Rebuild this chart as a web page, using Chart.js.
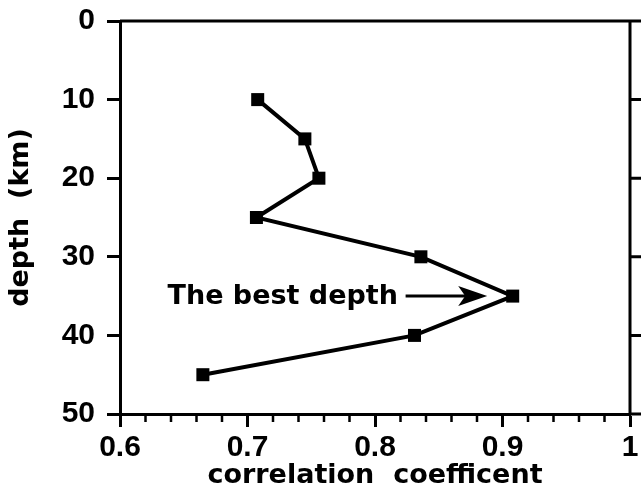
<!DOCTYPE html>
<html>
<head>
<meta charset="utf-8">
<script src="https://cdn.jsdelivr.net/npm/chart.js@4/dist/chart.umd.min.js"></script>
<style>
html,body{margin:0;padding:0;background:#fff;}
#wrap{width:641px;height:492px;position:relative;}
</style>
</head>
<body>
<div id="wrap"><canvas id="c" width="641" height="492"></canvas></div>
<script>
const depths = [10, 15, 20, 25, 30, 35, 40, 45];
const correlation = [0.708, 0.745, 0.756, 0.707, 0.836, 0.908, 0.831, 0.665];
const xTitle = 'correlation  coefficent';
const yTitle = 'depth  (km)';
const annotationText = 'The best depth';
const annotationDepth = 35;
const annotationTextEnd = 0.818;
const arrowStart = 0.824;
const arrowTip = 0.888;
const xMinorStep = 0.02;
const rightTicks = [10, 20, 30, 40];

const TICK_FONT = 'Liberation Sans';
const TITLE_FONT = 'DejaVu Sans';

const framePlugin = {
  id: 'frame',
  afterDraw(chart) {
    const ctx = chart.ctx;
    const a = chart.chartArea;
    const xs = chart.scales.x, ys = chart.scales.y;
    ctx.save();
    ctx.strokeStyle = '#000';
    ctx.lineWidth = 3;
    ctx.lineCap = 'butt';
    ctx.beginPath();
    ctx.moveTo(a.left, a.top);
    ctx.lineTo(chart.width, a.top);
    ctx.moveTo(a.right, a.top - 1.5);
    ctx.lineTo(a.right, a.bottom);
    ctx.moveTo(a.right, a.bottom);
    ctx.lineTo(chart.width, a.bottom);
    ctx.stroke();
    ctx.beginPath();
    rightTicks.forEach(v => {
      const y = ys.getPixelForValue(v);
      ctx.moveTo(a.right, y);
      ctx.lineTo(chart.width, y);
    });
    ctx.stroke();
    ctx.lineWidth = 2.5;
    ctx.beginPath();
    for (let i = 0; ; i++) {
      const v = xs.min + i * xMinorStep;
      if (v > xs.max + 1e-9) break;
      const r = Math.round(v * 10) / 10;
      if (Math.abs(v - r) < 1e-6) continue;
      const x = xs.getPixelForValue(v);
      ctx.moveTo(x, a.bottom);
      ctx.lineTo(x, a.bottom + 8);
    }
    ctx.stroke();
    const yA = ys.getPixelForValue(annotationDepth);
    ctx.fillStyle = '#000';
    ctx.font = 'bold 27px "' + TITLE_FONT + '"';
    ctx.textAlign = 'right';
    ctx.textBaseline = 'middle';
    ctx.fillText(annotationText, xs.getPixelForValue(annotationTextEnd), yA + 1);
    const x0 = xs.getPixelForValue(arrowStart);
    const x1 = xs.getPixelForValue(arrowTip);
    ctx.lineWidth = 3;
    ctx.beginPath();
    ctx.moveTo(x0, yA);
    ctx.lineTo(x1 - 18, yA);
    ctx.stroke();
    ctx.beginPath();
    ctx.moveTo(x1, yA);
    ctx.lineTo(x1 - 29, yA - 10);
    ctx.lineTo(x1 - 22, yA);
    ctx.lineTo(x1 - 29, yA + 10);
    ctx.closePath();
    ctx.fill();
    ctx.restore();
  }
};

function zeroPad(s) { s.paddingTop = 0; s.paddingBottom = 0; s.paddingLeft = 0; s.paddingRight = 0; }

new Chart(document.getElementById('c'), {
  type: 'scatter',
  data: {
    datasets: [{
      data: depths.map((d, i) => ({x: correlation[i], y: d})),
      showLine: true,
      borderColor: '#000',
      backgroundColor: '#000',
      borderWidth: 4,
      pointStyle: 'rect',
      pointRadius: 9.2,
      pointHoverRadius: 9.2,
      pointBorderWidth: 0,
      tension: 0
    }]
  },
  options: {
    responsive: false,
    animation: false,
    devicePixelRatio: 1,
    layout: { padding: { top: 21, right: 11, left: 0, bottom: 0 } },
    plugins: { legend: { display: false }, tooltip: { enabled: false } },
    scales: {
      x: {
        type: 'linear',
        min: 0.6, max: 1,
        ticks: { stepSize: 0.1, color: '#000', font: { family: TICK_FONT, size: 30, weight: 'bold' }, padding: 3, maxRotation: 0, autoSkip: false,
                 callback: v => String(+(+v).toFixed(1)) },
        grid: { drawOnChartArea: false, color: '#000', tickLength: 13, tickWidth: 3, tickColor: '#000' },
        border: { display: true, color: '#000', width: 3 },
        title: { display: true, text: xTitle, color: '#000', font: { family: TITLE_FONT, size: 27, weight: 'bold' }, padding: { top: 0, bottom: 0 } },
        afterFit(s) { s.height = 78; zeroPad(s); }
      },
      y: {
        type: 'linear',
        reverse: true,
        min: 0, max: 50,
        ticks: { stepSize: 10, color: '#000', font: { family: TICK_FONT, size: 30, weight: 'bold' }, padding: 12 },
        grid: { drawOnChartArea: false, color: '#000', tickLength: 13, tickWidth: 3, tickColor: '#000' },
        border: { display: true, color: '#000', width: 3 },
        title: { display: true, text: yTitle, color: '#000', font: { family: TITLE_FONT, size: 27, weight: 'bold' }, padding: { top: 5, bottom: 0 } },
        afterFit(s) { s.width = 120; zeroPad(s); }
      }
    }
  },
  plugins: [framePlugin]
});
</script>
</body>
</html>
